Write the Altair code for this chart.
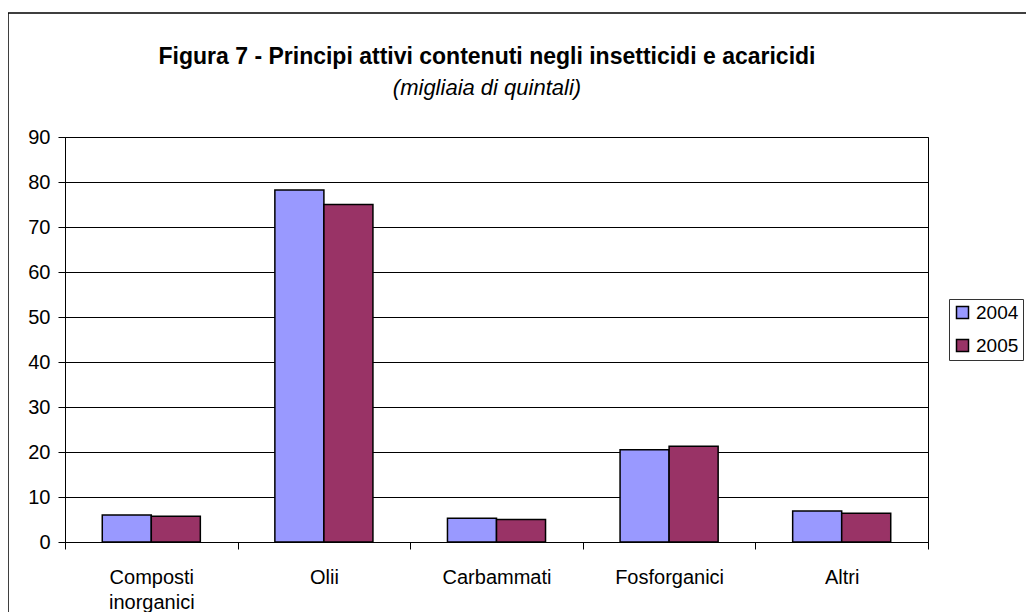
import altair as alt
import pandas as pd

title_text = "Figura 7 - Principi attivi contenuti negli insetticidi e acaricidi"
subtitle_text = "(migliaia di quintali)"
categories = ["Composti|inorganici", "Olii", "Carbammati", "Fosforganici", "Altri"]
values_2004 = [6.0, 78.2, 5.3, 20.5, 6.9]
values_2005 = [5.7, 75.0, 5.0, 21.3, 6.4]
years = ["2004", "2005"]
colors = ["#9999FF", "#993366"]

rows = []
for c, a, b in zip(categories, values_2004, values_2005):
    rows.append({"cat": c, "year": "2004", "v": a})
    rows.append({"cat": c, "year": "2005", "v": b})
df = pd.DataFrame(rows)

FONT = "Liberation Sans"

bars = alt.Chart(df).mark_bar(stroke="black", strokeWidth=1.5).encode(
    x=alt.X("cat:N", sort=categories, title=None,
            scale=alt.Scale(paddingInner=0, paddingOuter=0),
            axis=alt.Axis(labelAngle=0, tickBand="extent", tickSize=7, tickColor="black",
                          domainColor="black", labelFontSize=20, labelFont=FONT,
                          labelColor="black", labelPadding=18, labelLineHeight=25,
                          labelExpr="split(datum.label, '|')", grid=False)),
    xOffset=alt.XOffset("year:N", scale=alt.Scale(paddingInner=0, paddingOuter=0.76)),
    y=alt.Y("v:Q", title=None,
            scale=alt.Scale(domain=[0, 90], nice=False),
            axis=alt.Axis(values=list(range(0, 91, 10)), tickSize=7, tickColor="black",
                          domainColor="black", gridColor="black", gridWidth=1,
                          labelFontSize=20, labelFont=FONT, labelColor="black",
                          labelPadding=8)),
    color=alt.Color("year:N", scale=alt.Scale(domain=years, range=colors), title=None,
                    legend=alt.Legend(orient="none", legendX=884, legendY=162,
                                      strokeColor="#333", padding=4,
                                      symbolType="square", symbolSize=144,
                                      symbolStrokeColor="black", symbolStrokeWidth=1.5,
                                      labelFontSize=19, labelFont=FONT, labelColor="black",
                                      labelOffset=4, rowPadding=13)),
)

frame = alt.Chart(pd.DataFrame({"k": [0]})).mark_rect(
    fill=None, stroke="black", strokeWidth=1.5
).encode(
    x=alt.value(-57), x2=alt.value(1100), y=alt.value(-124), y2=alt.value(600)
)

titles = pd.DataFrame({"t": [title_text]})
subtitles = pd.DataFrame({"t": [subtitle_text]})

title_mark = alt.Chart(titles).mark_text(
    font=FONT, fontSize=23, fontWeight="bold", color="black", align="center", baseline="middle"
).encode(text="t:N", x=alt.value(422), y=alt.value(-80))

subtitle_mark = alt.Chart(subtitles).mark_text(
    font=FONT, fontSize=22, fontStyle="italic", color="black", align="center", baseline="middle"
).encode(text="t:N", x=alt.value(422), y=alt.value(-49))

chart = alt.layer(frame, bars, title_mark, subtitle_mark).properties(
    width=863, height=405,
    autosize=alt.AutoSizeParams(type="none"),
    padding={"left": 57, "top": 129, "right": 98, "bottom": 70},
).configure_view(stroke="black", strokeWidth=1)

chart.save("out.html", embed_options={"renderer": "svg", "actions": False})
